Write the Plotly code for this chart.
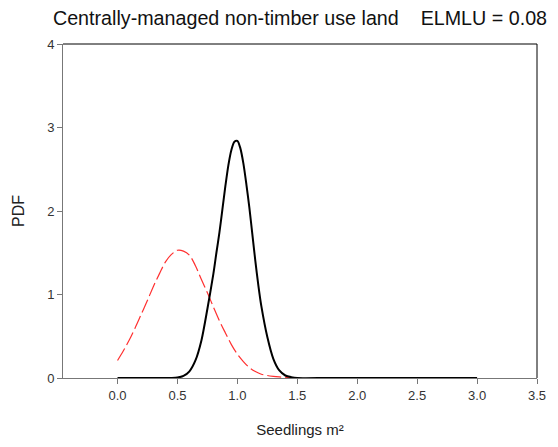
import plotly.graph_objects as go

# Black solid curve
black_x = [0.00, 0.10, 0.20, 0.30, 0.40, 0.45,
           0.50, 0.55, 0.60, 0.65, 0.70, 0.75, 0.80, 0.825, 0.85, 0.875,
           0.90, 0.925, 0.95, 0.975, 1.00, 1.025, 1.05, 1.075, 1.10, 1.125,
           1.15, 1.175, 1.20, 1.25, 1.30, 1.35, 1.40, 1.45,
           1.50, 1.75, 2.00, 2.25, 2.50, 2.75, 3.00]
black_y = [0.0, 0.0, 0.0, 0.0, 0.0, 0.0,
           0.005, 0.025, 0.08, 0.21, 0.45, 0.83, 1.25, 1.50, 1.74, 2.02,
           2.30, 2.55, 2.73, 2.83, 2.84, 2.75, 2.57, 2.32, 2.04, 1.72,
           1.40, 1.11, 0.86, 0.49, 0.23, 0.09, 0.03, 0.01,
           0.0, 0.0, 0.0, 0.0, 0.0, 0.0, 0.0]

# Red dashed curve
red_x = [0.00, 0.05, 0.10, 0.15, 0.20, 0.25, 0.30, 0.35, 0.40, 0.45,
         0.50, 0.55, 0.60, 0.65, 0.70, 0.75, 0.80, 0.85, 0.90, 0.95,
         1.00, 1.05, 1.10, 1.15, 1.20, 1.25, 1.30, 1.35, 1.40, 1.45]
red_y = [0.21, 0.33, 0.46, 0.61, 0.77, 0.93, 1.10, 1.25, 1.39, 1.48,
         1.53, 1.52, 1.47, 1.345, 1.18, 1.02, 0.85, 0.685, 0.54, 0.40,
         0.285, 0.197, 0.125, 0.077, 0.045, 0.03, 0.02, 0.013, 0.008, 0.004]

x_ticks = [0.0, 0.5, 1.0, 1.5, 2.0, 2.5, 3.0, 3.5]
y_ticks = [0, 1, 2, 3, 4]

fig = go.Figure()
fig.add_trace(go.Scatter(x=red_x, y=red_y, mode="lines",
                         line=dict(color="#ff3030", width=1.2, dash="14px,4px", shape="spline"),
                         showlegend=False))
fig.add_trace(go.Scatter(x=black_x, y=black_y, mode="lines",
                         line=dict(color="black", width=2, shape="spline", smoothing=0.8),
                         showlegend=False))

axis_font = dict(family="Liberation Sans, Arial, sans-serif", size=13, color="#333333")

fig.update_layout(
    width=558, height=447,
    margin=dict(l=63, r=14, t=44, b=68),
    paper_bgcolor="white", plot_bgcolor="white",
    font=dict(family="Liberation Sans, Arial, sans-serif", color="#222222"),
    title=dict(text="Centrally-managed non-timber use land\u00a0\u00a0\u00a0 ELMLU = 0.08",
               x=0.5, xref="paper", xanchor="center", y=0.96, yanchor="middle",
               font=dict(size=19.7, color="#111111")),
    xaxis=dict(range=[-0.455, 3.5], tickvals=x_ticks,
               ticktext=[f"{v:.1f}" for v in x_ticks],
               showgrid=False, zeroline=False, showline=True, linecolor="#777777",
               linewidth=1, ticks="outside", ticklen=5, tickcolor="#777777",
               tickfont=axis_font,
               title=dict(text="Seedlings m\u00b2", font=dict(size=15, color="#222222"), standoff=22)),
    yaxis=dict(range=[0, 4], tickvals=y_ticks, ticktext=[str(v) for v in y_ticks],
               showgrid=False, zeroline=False, showline=True, linecolor="#777777",
               linewidth=1, ticks="outside", ticklen=5, tickcolor="#777777",
               tickfont=axis_font,
               title=dict(text="PDF", font=dict(size=16, color="#222222"), standoff=18)),
    shapes=[
        dict(type="line", xref="paper", yref="paper", x0=0, x1=1, y0=1, y1=1,
             line=dict(color="black", width=1)),
        dict(type="line", xref="paper", yref="paper", x0=1, x1=1, y0=0, y1=1,
             line=dict(color="black", width=1)),
    ],
)

fig.write_html("out.html")
